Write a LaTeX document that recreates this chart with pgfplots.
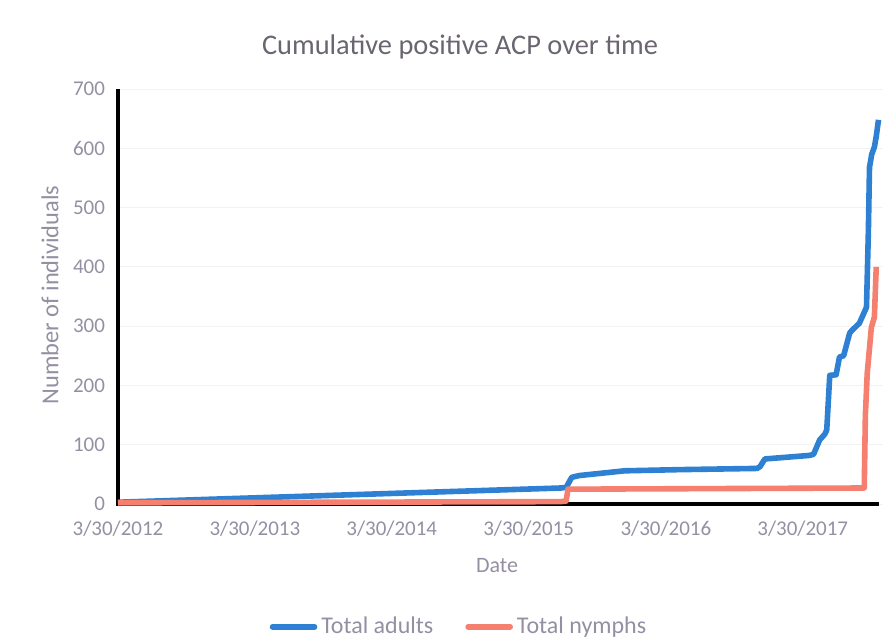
\documentclass[border=0pt]{standalone}
\usepackage{pgfplots}
\pgfplotsset{compat=1.18}
\usepackage{fontspec}
\setmainfont{Carlito}
\definecolor{adultblue}{HTML}{2E80D2}
\definecolor{nymphred}{HTML}{F5806F}
\definecolor{ticktext}{HTML}{958FA3}
\definecolor{titletext}{HTML}{6A6570}
\begin{document}
\begin{tikzpicture}
\path[use as bounding box] (-59pt,-67pt) rectangle (389pt,252pt);
\begin{axis}[
  at={(0pt,0pt)}, anchor=south west,
  scale only axis, width=382.5pt, height=207.5pt,
  xmin=0, xmax=2040, ymin=0, ymax=700,
  xtick={0,365,730,1095,1461,1826},
  xticklabels={3/30/2012,3/30/2013,3/30/2014,3/30/2015,3/30/2016,3/30/2017},
  ytick={0,100,...,700},
  axis line style={draw=none},
  major tick length=0pt,
  ymajorgrids, grid style={gray!10, line width=0.5pt},
  tick label style={font=\fontsize{10.5}{12}\selectfont, text=ticktext},
  xticklabel style={yshift=-5pt},
  yticklabel style={xshift=-3pt},
  /pgf/number format/assume math mode=true,
  legend style={at={(0.447,-0.296)}, anchor=center, draw=none, fill=none,
    font=\fontsize{12}{14}\selectfont, text=ticktext, legend columns=2,
    /tikz/every even column/.append style={column sep=14pt}},
  legend cell align=left,
  legend image code/.code={\draw[#1, line width=2.8pt, line cap=round] (0pt,0pt) -- (21pt,0pt);},
  clip=false,
]
\addplot[black, line width=2.3pt, forget plot] coordinates {(0,700) (0,0) (2028,0)};
\addplot[adultblue, line width=2.8pt, line join=round] coordinates {
(0,3) (1181,27) (1195,28) (1210,45) (1230,48) (1351,56) (1500,58) (1704,60)
(1712,63) (1725,76) (1845,82) (1855,84) (1871,108) (1885,118) (1890,125)
(1898,217) (1915,218) (1924,248) (1935,250) (1951,288) (1956,292) (1977,305)
(1996,332) (2001,460) (2004,568) (2010,590) (2017,602) (2022,620) (2028,648)};
\addlegendentry{Total adults}
\addplot[nymphred, line width=2.8pt, line join=round] coordinates {
(0,2) (1181,4) (1195,5) (1200,25) (1990,27) (1993,150) (1998,221) (2009,298)
(2017,315) (2022,400)};
\addlegendentry{Total nymphs}
\end{axis}
\node[font=\fontsize{14.2}{16}\selectfont, text=titletext] at (171pt,228.5pt) {Cumulative positive ACP over time};
\node[font=\fontsize{12.2}{14}\selectfont, text=ticktext, rotate=90] at (-34pt,104.5pt) {Number of individuals};
\node[font=\fontsize{11}{13}\selectfont, text=ticktext] at (189.5pt,-31pt) {Date};
\end{tikzpicture}
\end{document}
